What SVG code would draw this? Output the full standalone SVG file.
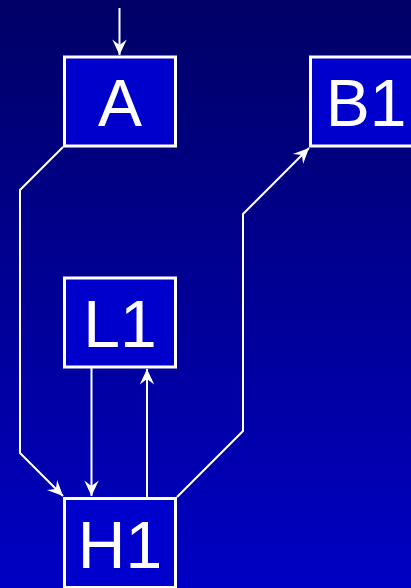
<svg xmlns="http://www.w3.org/2000/svg" width="411" height="588" viewBox="0 0 411 588">
<defs>
<linearGradient id="bg" x1="0" y1="0" x2="0" y2="1">
<stop offset="0" stop-color="#000066"/>
<stop offset="1" stop-color="#0000c4"/>
</linearGradient>
<marker id="ah" markerUnits="userSpaceOnUse" markerWidth="20" markerHeight="20" viewBox="-16 -8 18 16" refX="0" refY="0" orient="auto">
<path d="M0,0 L-14,-6.5 L-9,0 L-14,6.5 Z" fill="#ffffff"/>
</marker>
<style>
.box{fill:#0000cc;stroke:#ffffff;stroke-width:3}
.lbl{font-family:"Liberation Sans",Arial,sans-serif;font-size:66px;fill:#ffffff;text-anchor:middle}
.edge{fill:none;stroke:#ffffff;stroke-width:2;marker-end:url(#ah)}
</style>
</defs>
<rect x="0" y="0" width="411" height="588" fill="url(#bg)"/>
<g id="connectors">
<path class="edge" d="M119.5,8 L119.5,55"/>
<path class="edge" d="M63,147 L20,190 L20,453 L63,496"/>
<path class="edge" d="M91.5,368 L91.5,496"/>
<path class="edge" d="M147,497 L147,369"/>
<path class="edge" d="M177,497 L243,431 L243,214 L309,148"/>
</g>
<g id="A"><rect class="box" x="64.5" y="57" width="111" height="89"/><text class="lbl" x="120" y="126">A</text></g>
<g id="B1"><rect class="box" x="310.5" y="57" width="111" height="89"/><text class="lbl" x="366" y="126">B1</text></g>
<g id="L1"><rect class="box" x="64.5" y="278" width="111" height="89"/><text class="lbl" x="120" y="347">L1</text></g>
<g id="H1"><rect class="box" x="64.5" y="498.5" width="111" height="89"/><text class="lbl" x="120" y="568">H1</text></g>
</svg>
